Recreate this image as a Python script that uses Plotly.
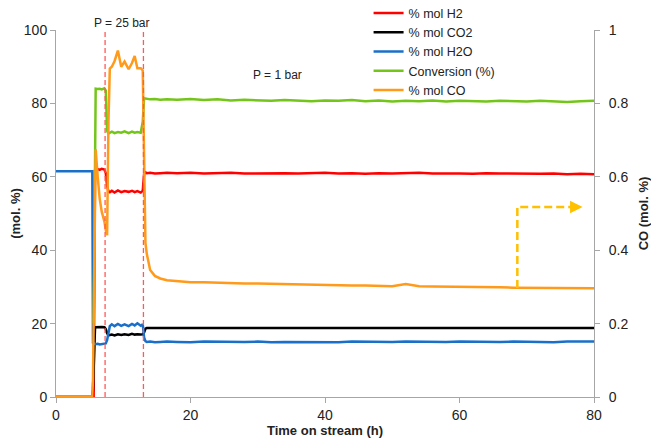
import plotly.graph_objects as go

# ---------------- data ----------------
time_h = [0, 5.4, 5.5, 5.6, 5.8, 5.9, 6.2, 6.5, 6.8, 7.2, 7.4, 7.6, 7.8, 8.0, 8.3, 8.7,
          9.2, 9.7, 10.2, 10.8, 11.3, 11.7, 12.1, 12.6, 12.9, 13.1, 13.3, 13.5, 14.0, 14.7, 15.5, 16.5,
          18, 20, 22, 24, 26, 28, 30, 32, 34, 36, 38, 40, 42, 44, 46, 48,
          50, 52, 54, 56, 58, 60, 62, 64, 66, 68, 70, 72, 74, 76, 78, 80]

mol_h2 = [0, 0, 0, 0, 61.8, 62.0, 62.1, 61.9, 62.2, 62.0, 61.0, 57.5, 56.0, 55.8, 56.2, 55.7,
          56.3, 55.8, 56.1, 55.9, 56.2, 55.8, 56.1, 55.7, 56.2, 60.8, 61.2, 61.0, 61.1, 60.9, 61.0, 61.1,
          61.0, 61.1, 60.9, 61.0, 61.1, 60.9, 61.0, 61.1, 61.0, 60.9, 61.0, 61.1, 60.9, 61.0, 60.8, 61.0,
          60.9, 61.0, 61.1, 60.9, 61.0, 60.9, 60.8, 61.0, 60.9, 60.8, 60.9, 60.8, 60.9, 60.7, 60.8, 60.7]

mol_co2 = [0, 0, 2.0, 10.0, 18.7, 19.0, 19.1, 19.0, 19.1, 19.0, 18.5, 17.4, 16.8, 16.9, 17.0, 16.8,
           17.1, 16.9, 17.1, 16.9, 17.2, 17.0, 17.1, 17.0, 17.1, 17.6, 18.6, 18.8, 18.8, 18.8, 18.8, 18.8,
           18.8, 18.8, 18.9, 18.8, 18.8, 18.8, 18.9, 18.8, 18.8, 18.8, 18.8, 18.8, 18.9, 18.8, 18.8, 18.8,
           18.8, 18.8, 18.7, 18.8, 18.8, 18.8, 18.8, 18.8, 18.8, 18.8, 18.8, 18.8, 18.8, 18.8, 18.8, 18.8]

mol_h2o = [61.5, 61.5, 14.8, 14.6, 14.5, 14.4, 14.5, 14.3, 14.4, 14.5, 14.6, 15.5, 17.8, 19.3, 19.8, 19.3,
           19.9, 19.4, 19.8, 19.3, 19.9, 19.5, 20.1, 19.4, 19.8, 16.2, 15.2, 15.0, 15.1, 14.9, 15.0, 15.1,
           15.0, 14.9, 15.1, 15.0, 14.9, 15.0, 15.1, 14.9, 15.0, 15.0, 14.8, 15.0, 14.9, 15.1, 15.0, 14.9,
           15.0, 15.1, 15.0, 14.9, 15.0, 15.1, 15.0, 14.9, 15.0, 15.1, 15.0, 15.0, 14.9, 15.1, 15.2, 15.1]

conversion = [None, None, None, 20.0, 83.8, 84.0, 83.9, 84.0, 83.8, 84.1, 83.5, 72.5, 71.8, 72.0, 72.3, 71.9,
              72.2, 72.0, 72.4, 71.9, 72.3, 72.0, 72.2, 72.0, 75.0, 81.4, 81.3, 81.2, 81.1, 81.2, 81.0, 81.1,
              81.0, 81.2, 80.9, 81.1, 80.8, 81.0, 80.9, 80.7, 80.9, 80.8, 80.6, 80.8, 80.7, 80.9, 80.6, 80.8,
              80.5, 80.7, 80.6, 80.8, 80.5, 80.7, 80.6, 80.5, 80.7, 80.6, 80.5, 80.7, 80.6, 80.4, 80.6, 80.7]

mol_co = [0, 0, 0.05, 0.25, 0.60, 0.675, 0.60, 0.54, 0.505, 0.478, 0.455, 0.441, 0.75, 0.895, 0.90, 0.915,
          0.944, 0.900, 0.914, 0.893, 0.910, 0.929, 0.896, 0.896, 0.89, 0.64, 0.42, 0.39, 0.346, 0.330, 0.323, 0.318,
          0.316, 0.313, 0.313, 0.311, 0.311, 0.309, 0.309, 0.308, 0.307, 0.307, 0.306, 0.305, 0.305, 0.304, 0.304, 0.303,
          0.302, 0.308, 0.302, 0.301, 0.301, 0.300, 0.300, 0.299, 0.299, 0.298, 0.298, 0.297, 0.298, 0.297, 0.296, 0.296]

series_names = ["% mol H2", "% mol CO2", "% mol H2O", "Conversion (%)", "% mol CO"]

# pressure switch times (h)
pressure_switch_h = [7.3, 13.0]

# arrow pointing to the CO axis: path in (h, CO mol.%)
arrow_x = [68.6, 68.6, 77.0]
arrow_y = [0.297, 0.518, 0.518]
arrow_tip = (78.3, 0.518)

x_ticks = [0, 20, 40, 60, 80]
y_ticks = [0, 20, 40, 60, 80, 100]
y2_ticks = [0, 0.2, 0.4, 0.6, 0.8, 1]
y2_tick_text = ["0", "0.2", "0.4", "0.6", "0.8", "1"]

# ---------------- figure ----------------
FONT = "Arial, 'Liberation Sans', sans-serif"
AXIS_GRAY = "#A6A6A6"
TXT = "#222222"

colors = ["#FF0000", "#000000", "#1A6FC9", "#74C51A", "#FF9A1A"]
LW = 2.5

fig = go.Figure()
left_series = [mol_h2, mol_co2, mol_h2o, conversion]
for name, vals, col in zip(series_names[:4], left_series, colors[:4]):
    fig.add_trace(go.Scatter(x=time_h, y=vals, name=name, mode="lines",
                             line=dict(color=col, width=LW), connectgaps=False))
fig.add_trace(go.Scatter(x=time_h, y=mol_co, name=series_names[4], mode="lines",
                         line=dict(color=colors[4], width=LW), yaxis="y2"))

# dashed arrow
fig.add_trace(go.Scatter(x=arrow_x, y=arrow_y, mode="lines", yaxis="y2", showlegend=False,
                         hoverinfo="skip",
                         line=dict(color="#FFC000", width=2.5, dash="8px,4px")))
fig.add_annotation(x=arrow_tip[0], y=arrow_tip[1], xref="x", yref="y2",
                   ax=arrow_x[-1], ay=arrow_y[-1], axref="x", ayref="y2",
                   showarrow=True, arrowhead=2, arrowsize=1, arrowwidth=2.5,
                   arrowcolor="#FFC000", text="")

for xs in pressure_switch_h:
    fig.add_shape(type="line", xref="x", yref="paper", x0=xs, x1=xs, y0=0, y1=1,
                  line=dict(color="#FF5A5A", width=1.3, dash="5px,3px"))

fig.add_annotation(x=9.75, y=0.994, xref="x", yref="paper", yanchor="bottom",
                   text="P = 25 bar", showarrow=False,
                   font=dict(family=FONT, size=12, color=TXT))
fig.add_annotation(x=32.9, y=87.7, xref="x", yref="y",
                   text="P = 1 bar", showarrow=False,
                   font=dict(family=FONT, size=12, color=TXT))

axis_common = dict(showline=True, linecolor=AXIS_GRAY, linewidth=1, ticks="outside",
                   ticklen=5, tickcolor=AXIS_GRAY, tickwidth=1, showgrid=False, zeroline=False,
                   automargin=False,
                   tickfont=dict(family=FONT, size=14, color=TXT))

fig.update_layout(
    width=651, height=440,
    margin=dict(l=56, r=57, t=30, b=43, autoexpand=False),
    paper_bgcolor="white", plot_bgcolor="white",
    font=dict(family=FONT, size=13, color=TXT),
    xaxis=dict(range=[0, 80], tickvals=x_ticks, mirror=False,
               title=dict(text="<b>Time on stream (h)</b>", standoff=3,
                          font=dict(family=FONT, size=13, color=TXT)),
               **axis_common),
    yaxis=dict(range=[0, 100], tickvals=y_ticks,
               title=dict(text="<b>(mol. %)</b>", standoff=0,
                          font=dict(family=FONT, size=13, color=TXT)),
               **axis_common),
    yaxis2=dict(range=[0, 1], tickvals=y2_ticks, ticktext=y2_tick_text, overlaying="y", side="right",
                ticklabelstandoff=6,
                title=dict(text="<b>CO (mol. %)</b>", standoff=12,
                           font=dict(family=FONT, size=13, color=TXT)),
                **axis_common),
    legend=dict(x=0.581, xanchor="left", y=1.086, yanchor="top", bgcolor="rgba(0,0,0,0)",
                font=dict(family=FONT, size=12.5, color=TXT), itemwidth=30, tracegroupgap=0),
    showlegend=True,
)

fig.write_html("out.html")
